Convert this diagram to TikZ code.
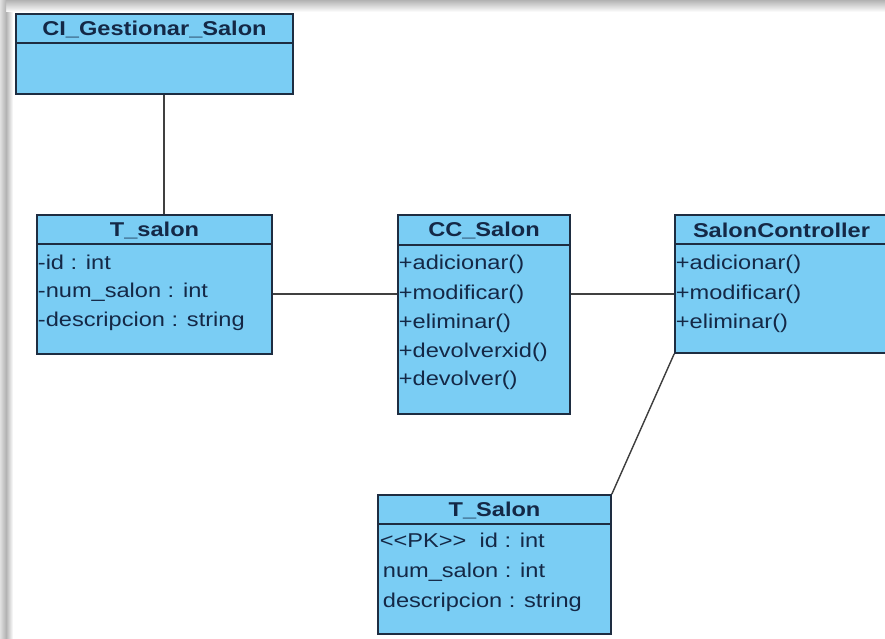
\documentclass[tikz,border=0pt]{standalone}
\usepackage{fontspec}
\setmainfont{Liberation Sans}[FakeStretch=1.18]
\usetikzlibrary{positioning}
\definecolor{classblue}{RGB}{122,205,244}
\definecolor{classline}{RGB}{30,45,65}
\definecolor{classtext}{RGB}{20,40,70}

\begin{document}
\begin{tikzpicture}[x=1pt, y=-1pt,
    classbox/.style={rectangle, draw=classline, line width=1.6pt, fill=classblue, inner sep=0pt},
    classname/.style={font=\fontsize{20}{22}\selectfont\bfseries, text=classtext, inner sep=0pt},
    member/.style={font=\fontsize{20}{22}\selectfont, text=classtext, anchor=mid west, inner sep=1.5pt},
    divider/.style={draw=classline, line width=1.6pt},
    link/.style={draw=black!75, line width=1.4pt}
]
    \useasboundingbox (0,0) rectangle (885,638);
    \clip (0,0) rectangle (885,638);
    \fill[white] (0,0) rectangle (885,638);
    % page shadow along the top and left edge
    \shade[top color=black!30, bottom color=white] (0,0) rectangle (885,12);
    \shade[left color=black!12, right color=black!30] (0,0) rectangle (6,638);
    \shade[left color=black!30, right color=white] (6,12) rectangle (13,638);

    % classes
    \node[classbox, minimum width=277pt, minimum height=80pt] (ci) at (154.5,54) {};
    \node[classbox, minimum width=235pt, minimum height=139pt] (tsalon) at (154.5,284.5) {};
    \node[classbox, minimum width=172pt, minimum height=199pt] (cc) at (484,314.5) {};
    \node[classbox, minimum width=213pt, minimum height=138pt] (ctrl) at (781.5,284) {};
    \node[classbox, minimum width=233pt, minimum height=139pt] (tdb) at (494.5,564.5) {};

    \draw[divider] (ci.west |- 0,43) -- (ci.east |- 0,43);
    \draw[divider] (tsalon.west |- 0,244) -- (tsalon.east |- 0,244);
    \draw[divider] (cc.west |- 0,245) -- (cc.east |- 0,245);
    \draw[divider] (ctrl.west |- 0,244) -- (ctrl.east |- 0,244);
    \draw[divider] (tdb.west |- 0,524) -- (tdb.east |- 0,524);

    \node[classname] (ci-name) at (ci.north |- 0,29) {CI\_Gestionar\_Salon};
    \node[classname] (tsalon-name) at (tsalon.north |- 0,230) {T\_salon};
    \node[classname] (cc-name) at (cc.north |- 0,230) {CC\_Salon};
    \node[classname] (ctrl-name) at (ctrl.north |- 0,230) {SalonController};
    \node[classname] (tdb-name) at (tdb.north |- 0,510) {T\_Salon};

    % attributes and operations
    \node[member] (tsalon-1) at (tsalon.west |- 0,267) {-id : int};
    \node[member] (tsalon-2) at (tsalon.west |- 0,295) {-num\_salon : int};
    \node[member] (tsalon-3) at (tsalon.west |- 0,324) {-descripcion : string};

    \node[member] (cc-1) at (cc.west |- 0,267) {+adicionar()};
    \node[member] (cc-2) at (cc.west |- 0,297) {+modificar()};
    \node[member] (cc-3) at (cc.west |- 0,326) {+eliminar()};
    \node[member] (cc-4) at (cc.west |- 0,355) {+devolverxid()};
    \node[member] (cc-5) at (cc.west |- 0,383) {+devolver()};

    \node[member] (ctrl-1) at (ctrl.west |- 0,267) {+adicionar()};
    \node[member] (ctrl-2) at (ctrl.west |- 0,297) {+modificar()};
    \node[member] (ctrl-3) at (ctrl.west |- 0,326) {+eliminar()};

    \node[member, xshift=1pt] (tdb-1) at (tdb.west |- 0,545) {{<}{<}PK{>}{>}\ \ id : int};
    \node[member, xshift=4pt] (tdb-2) at (tdb.west |- 0,575) {num\_salon : int};
    \node[member, xshift=4pt] (tdb-3) at (tdb.west |- 0,605) {descripcion : string};

    % associations
    \draw[link] ([xshift=9.5pt]ci.south) -- ([xshift=9.5pt]tsalon.north);
    \draw[link] (tsalon.east |- 0,294) -- (cc.west |- 0,294);
    \draw[link] (cc.east |- 0,294) -- (ctrl.west |- 0,294);
    \draw[link] (ctrl.south west) -- (tdb.north east);
\end{tikzpicture}
\end{document}
